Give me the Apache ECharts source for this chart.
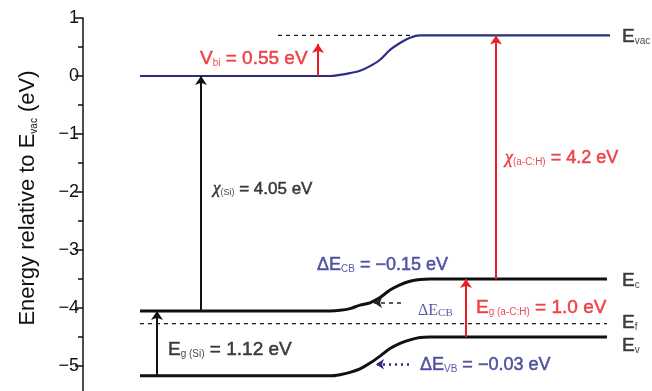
<!DOCTYPE html>
<html>
<head>
<meta charset="utf-8">
<script src="https://cdn.jsdelivr.net/npm/echarts@6/dist/echarts.min.js"></script>
<style>
  html, body { margin: 0; padding: 0; background: #fff; }
  #chart { width: 652px; height: 391px; }
</style>
</head>
<body>
<div id="chart"></div>
<script>
// Band diagram of an a-C:H / Si heterojunction, energies in eV relative to E_vac.
// Position along the junction is in arbitrary units (Si on the left, a-C:H on the right).

// Vacuum level
const vacPos = [57, 237, 247, 257, 267, 277, 287, 297, 307, 317, 327, 337, 347, 527];
const vacE   = [0, 0, 0, 0.02, 0.05, 0.09, 0.17, 0.28, 0.45, 0.57, 0.66, 0.70, 0.70, 0.70];

// Conduction band edge
const cbPos = [57, 247, 257, 267, 277, 287, 297, 307, 317, 327, 337, 347, 524];
const cbE   = [-4.05, -4.05, -4.04, -4.01, -3.95, -3.91, -3.82, -3.69, -3.60, -3.54, -3.51, -3.50, -3.50];

// Valence band edge
const vbPos = [57, 247, 257, 267, 277, 287, 297, 307, 317, 327, 337, 347, 524];
const vbE   = [-5.17, -5.17, -5.15, -5.11, -5.05, -4.95, -4.83, -4.70, -4.61, -4.55, -4.51, -4.50, -4.50];

// Fermi level
const fermiPos = [57, 524];
const fermiE   = [-4.27, -4.27];

// Stated quantities (eV)
const quantityNames  = ['Vbi', 'chiSi', 'chiACH', 'EgSi', 'EgACH', 'dECB', 'dEVB'];
const quantityValues = [0.55, 4.05, 4.2, 1.12, 1.0, -0.15, -0.03];

// Energy axis tick labels
const energyTicks = [1, 0, -1, -2, -3, -4, -5];

const q = name => quantityValues[quantityNames.indexOf(name)];
const decimals = v => (String(v).split('.')[1] || '0').length;
const fmt = v => (v < 0 ? '\u2212' : '') + Math.abs(v).toFixed(decimals(v));

const RED = '#ea1c24';
const NAVY = '#2b2d82';
const TXTNAVY = '#2c2f8f';
const INK = '#111111';
const SANS = '"Liberation Sans", Arial, Helvetica, sans-serif';
const SERIF = '"Liberation Serif", "Times New Roman", serif';

function richSet(color, size) {
  const stroke = { textBorderColor: color, textBorderWidth: 0.5 };
  return {
    m: Object.assign({ color, fontSize: size, fontFamily: SANS, lineHeight: size + 2, verticalAlign: 'bottom' }, stroke),
    s: { color, fontSize: Math.round(size * 0.55), fontFamily: SANS, lineHeight: 4, verticalAlign: 'bottom' },
    g: Object.assign({ color, fontSize: size, fontFamily: SERIF, fontStyle: 'italic', lineHeight: size + 2, verticalAlign: 'bottom' }, stroke),
    t: { color, fontSize: size - 1, fontFamily: SERIF, lineHeight: size + 2, verticalAlign: 'bottom' },
    ts: { color, fontSize: Math.round(size * 0.65), fontFamily: SERIF, lineHeight: 4, verticalAlign: 'bottom' }
  };
}

const pair = (xs, ys) => xs.map((x, i) => [x, ys[i]]);

// Arrow spans derived from the stated quantities
const siEc = cbE[0], siEv = vbE[0];
const achEc = cbE[cbE.length - 1], achEv = vbE[vbE.length - 1];
const arrows = [
  { x: 74,  from: siEv,     to: siEv + q('EgSi'),      color: INK },
  { x: 118, from: siEc,     to: siEc + q('chiSi'),     color: INK },
  { x: 235, from: vacE[0],  to: vacE[0] + q('Vbi'),    color: RED },
  { x: 383, from: achEv,    to: achEv + q('EgACH'),    color: RED },
  { x: 413, from: achEc,    to: achEc + q('chiACH'),   color: RED }
];

// Annotation text, anchored in data coordinates
const labels = [
  { pos: [117, 0.31],  color: RED,     size: 19, text: `{m|V}{s|bi}{m| = ${fmt(q('Vbi'))} eV}` },
  { pos: [130, -1.93], color: INK,     size: 17, text: `{g|\u03c7}{s|(Si)}{m| = ${fmt(q('chiSi'))} eV}` },
  { pos: [422, -1.40], color: RED,     size: 18, text: `{g|\u03c7}{s|(a-C:H)}{m| = ${fmt(q('chiACH'))} eV}` },
  { pos: [85, -4.71],  color: INK,     size: 19, text: `{m|E}{s|g (Si)}{m| = ${fmt(q('EgSi'))} eV}` },
  { pos: [393, -3.98], color: RED,     size: 19, text: `{m|E}{s|g (a-C:H)}{m| = ${fmt(q('EgACH'))} eV}` },
  { pos: [234, -3.25], color: TXTNAVY, size: 18, text: `{m|\u0394E}{s|CB}{m| = ${fmt(q('dECB'))} eV}` },
  { pos: [335, -4.02], color: TXTNAVY, size: 17, text: `{t|\u0394E}{ts|CB}` },
  { pos: [337, -4.97], color: TXTNAVY, size: 18, text: `{m|\u0394E}{s|VB}{m| = ${fmt(q('dEVB'))} eV}` },
  { pos: [539, vacE[vacE.length - 1]], color: INK, size: 19, text: '{m|E}{s|vac}' },
  { pos: [539, achEc - 0.02], color: INK, size: 19, text: '{m|E}{s|c}' },
  { pos: [539, fermiE[0] + 0.03], color: INK, size: 19, text: '{m|E}{s|f}' },
  { pos: [539, achEv - 0.13], color: INK, size: 19, text: '{m|E}{s|v}' }
];

const chart = echarts.init(document.getElementById('chart'), null, { renderer: 'canvas' });

const option = {
  animation: false,
  backgroundColor: '#ffffff',
  grid: { left: 83, right: 0, top: 18, bottom: -33, containLabel: false, outerBoundsMode: 'none' },
  xAxis: {
    type: 'value', min: 0, max: 569, show: false
  },
  yAxis: {
    type: 'value', min: -6, max: 1, interval: 1,
    axisLine: { show: true, lineStyle: { color: INK, width: 1.5 } },
    axisTick: { show: true, length: 8, lineStyle: { color: INK, width: 1.5 } },
    minorTick: { show: true, splitNumber: 2, length: 5, lineStyle: { color: INK, width: 1.5 } },
    splitLine: { show: false },
    axisLabel: {
      margin: 4, color: INK, fontSize: 18, fontFamily: SANS,
      formatter: v => energyTicks.includes(v) ? (v < 0 ? '\u2212' + Math.abs(v) : String(v)) : ''
    }
  },
  graphic: [
    {
      type: 'text', x: 27, y: 198, rotation: Math.PI / 2,
      style: {
        text: '{a|Energy relative to E}{s|vac}{a| (eV)}',
        align: 'center', verticalAlign: 'middle',
        rich: {
          a: { fontSize: 22, fontFamily: SANS, fill: INK, lineHeight: 24, verticalAlign: 'bottom' },
          s: { fontSize: 10, fontFamily: SANS, fill: INK, lineHeight: 4, verticalAlign: 'bottom' }
        }
      }
    }
  ],
  series: [
    {
      name: 'E_F', type: 'line', data: pair(fermiPos, fermiE), symbol: 'none',
      lineStyle: { color: INK, width: 1.2, type: [4, 4] }, z: 2
    },
    {
      name: 'E_vac (a-C:H) reference', type: 'line',
      data: [[195, vacE[vacE.length - 1]], [330, vacE[vacE.length - 1]]], symbol: 'none',
      lineStyle: { color: INK, width: 1.2, type: [4, 4] }, z: 2
    },
    {
      name: 'E_vac', type: 'line', data: pair(vacPos, vacE), symbol: 'none',
      smooth: 0.3,
      lineStyle: { color: NAVY, width: 2.2 }, z: 3
    },
    {
      name: 'E_c', type: 'line', data: pair(cbPos, cbE), symbol: 'none',
      smooth: 0.3,
      lineStyle: { color: INK, width: 3 }, z: 3
    },
    {
      name: 'E_v', type: 'line', data: pair(vbPos, vbE), symbol: 'none',
      smooth: 0.3,
      lineStyle: { color: INK, width: 3 }, z: 3
    },
    {
      name: 'arrows', type: 'lines', coordinateSystem: 'cartesian2d',
      symbol: ['none', 'arrow'], symbolSize: 9, z: 4,
      data: arrows.map(a => ({
        coords: [[a.x, a.from], [a.x, a.to]],
        lineStyle: { color: a.color, width: 2, opacity: 1 }
      }))
    },
    {
      name: 'offset markers', type: 'lines', coordinateSystem: 'cartesian2d',
      symbol: ['none', 'arrow'], symbolSize: 8, z: 4,
      data: [
        { coords: [[318, -3.91], [291, -3.91]], lineStyle: { color: '#222', width: 1.5, type: [4, 4], opacity: 1 } },
        { coords: [[326, -4.97], [293, -4.97]], lineStyle: { color: NAVY, width: 2.5, type: [2, 4], opacity: 1 } }
      ]
    },
    {
      name: 'labels', type: 'scatter', symbolSize: 0, z: 5, silent: true,
      data: labels.map(l => ({
        value: l.pos,
        label: {
          show: true, position: [0, 0], align: 'left', verticalAlign: 'middle',
          formatter: l.text, rich: richSet(l.color, l.size)
        }
      }))
    }
  ]
};

chart.setOption(option);
</script>
</body>
</html>
